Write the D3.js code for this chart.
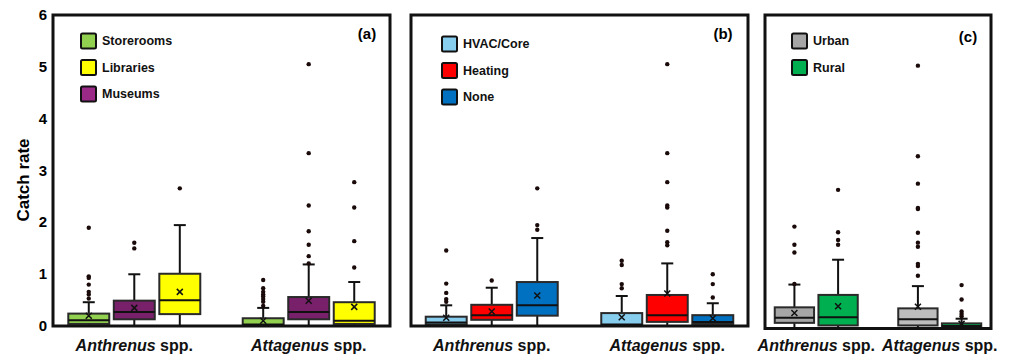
<!DOCTYPE html>
<html lang="en">
<head>
    <meta charset="UTF-8">
    <title>Catch rate</title>
    <script src="https://cdn.jsdelivr.net/npm/d3@7/dist/d3.min.js"></script>
    <style>
        body { margin: 0; background: #fff; }
        text { font-family: Arial, "Liberation Sans", sans-serif; fill: #000; }
        .tick text { font-size: 15px; font-weight: bold; }
        .legend text { font-size: 12.5px; font-weight: bold; fill: #111; }
        .plabel { font-size: 15px; font-weight: bold; }
        .xlab { font-size: 16px; font-weight: bold; fill: #111; }
    </style>
</head>
<body>
    <svg id="chart" width="1019" height="356"></svg>
    <script>
        // species on the x axis
        const species = ["Anthrenus", "Attagenus"]
        const yTicks = [0, 1, 2, 3, 4, 5, 6]

        // panel (a): building type
        const typeSeries = ["Storerooms", "Museums", "Libraries"]
        const typeLegend = ["Storerooms", "Libraries", "Museums"]
        const storeroomsStats = [
            {q1: 0.03, med: 0.10, q3: 0.23, lo: 0, hi: 0.45, mean: 0.19},
            {q1: 0.00, med: 0.02, q3: 0.14, lo: 0, hi: 0.34, mean: 0.09}
        ]
        const storeroomsOut = [[1.89, 0.95, 0.92, 0.79, 0.65, 0.60, 0.52], [0.88, 0.72, 0.65, 0.60, 0.56, 0.51, 0.46, 0.38]]
        const museumsStats = [
            {q1: 0.12, med: 0.26, q3: 0.48, lo: 0, hi: 0.99, mean: 0.34},
            {q1: 0.12, med: 0.26, q3: 0.55, lo: 0, hi: 1.18, mean: 0.48}
        ]
        const museumsOut = [[1.49, 1.60], [1.20, 1.34, 1.56, 1.82, 2.32, 3.33, 5.05]]
        const librariesStats = [
            {q1: 0.22, med: 0.49, q3: 1.00, lo: 0, hi: 1.94, mean: 0.65},
            {q1: 0.03, med: 0.09, q3: 0.45, lo: 0, hi: 0.84, mean: 0.36}
        ]
        const librariesOut = [[2.65], [1.12, 1.63, 2.28, 2.77]]

        // panel (b): climate control
        const climateSeries = ["HVAC/Core", "Heating", "None"]
        const hvacStats = [
            {q1: 0.02, med: 0.06, q3: 0.17, lo: 0, hi: 0.39, mean: 0.15},
            {q1: 0.01, med: 0.02, q3: 0.24, lo: 0, hi: 0.57, mean: 0.16}
        ]
        const hvacOut = [[0.46, 0.51, 0.63, 0.81, 1.45], [0.72, 0.80, 1.17, 1.25]]
        const heatingStats = [
            {q1: 0.11, med: 0.20, q3: 0.40, lo: 0, hi: 0.73, mean: 0.27},
            {q1: 0.07, med: 0.20, q3: 0.59, lo: 0, hi: 1.20, mean: 0.62}
        ]
        const heatingOut = [[0.87], [1.55, 1.61, 1.83, 2.28, 2.32, 2.77, 3.33, 5.05]]
        const noneStats = [
            {q1: 0.19, med: 0.39, q3: 0.84, lo: 0, hi: 1.69, mean: 0.58},
            {q1: 0.03, med: 0.07, q3: 0.20, lo: 0, hi: 0.43, mean: 0.14}
        ]
        const noneOut = [[1.85, 1.94, 2.65], [0.54, 0.80, 0.99]]

        // panel (c): location
        const locSeries = ["Urban", "Rural"]
        const urbanStats = [
            {q1: 0.08, med: 0.18, q3: 0.38, lo: 0, hi: 0.82, mean: 0.27},
            {q1: 0.03, med: 0.15, q3: 0.36, lo: 0, hi: 0.79, mean: 0.39}
        ]
        const urbanOut = [[0.83, 1.44, 1.59, 1.94], [0.99, 1.18, 1.22, 1.55, 1.63, 1.82, 2.28, 2.30, 2.77, 3.30, 5.05]]
        const ruralStats = [
            {q1: 0.03, med: 0.19, q3: 0.62, lo: 0, hi: 1.30, mean: 0.40},
            {q1: 0.01, med: 0.02, q3: 0.07, lo: 0, hi: 0.16, mean: 0.06}
        ]
        const ruralOut = [[1.59, 1.68, 1.83, 2.65], [0.21, 0.25, 0.30, 0.53, 0.81]]

        // colours (per species where the shade differs)
        const fills = {
            "Storerooms": ["#92d050", "#92d050"],
            "Museums": ["#78206a", "#78206a"],
            "Libraries": ["#ffff00", "#ffff00"],
            "HVAC/Core": ["#87cdee", "#87cdee"],
            "Heating": ["#ff0000", "#ff0000"],
            "None": ["#0070c0", "#0070c0"],
            "Urban": ["#a6a6a6", "#bdbdbd"],
            "Rural": ["#00b050", "#00b050"]
        }
        const legendFill = {"Museums": "#9a2a86"}

        const panels = [
            {
                id: "(a)", x0: 53, x1: 390, top: 15, bottom: 326, y0: 325.5, pad: 0.466, inner: 132,
                series: typeSeries, legend: typeLegend,
                stats: {"Storerooms": storeroomsStats, "Museums": museumsStats, "Libraries": librariesStats},
                out: {"Storerooms": storeroomsOut, "Museums": museumsOut, "Libraries": librariesOut},
                lx: 81, ly: 41, lab: [367, 34]
            },
            {
                id: "(b)", x0: 411, x1: 748, top: 15, bottom: 326, y0: 325.5, pad: 0.46, inner: 132,
                series: climateSeries, legend: climateSeries,
                stats: {"HVAC/Core": hvacStats, "Heating": heatingStats, "None": noneStats},
                out: {"HVAC/Core": hvacOut, "Heating": heatingOut, "None": noneOut},
                lx: 442, ly: 44, lab: [723, 34]
            },
            {
                id: "(c)", x0: 765, x1: 991, top: 15, bottom: 328.5, y0: 327, pad: 0.415, inner: 83,
                series: locSeries, legend: locSeries,
                stats: {"Urban": urbanStats, "Rural": ruralStats},
                out: {"Urban": urbanOut, "Rural": ruralOut},
                lx: 792, ly: 41, lab: [968, 37]
            }
        ]

        const svg = d3.select("#chart")

        panels.forEach((p, pi) => {
            const g = svg.append("g")
            const y = d3.scaleLinear().domain([0, 6]).range([p.y0, p.y0 - 6 * 51.75])
            const x = d3.scalePoint().domain(species).range([p.x0, p.x1]).padding(p.pad)
            const xi = d3.scaleBand().domain(p.series).range([-p.inner / 2, p.inner / 2]).paddingInner(0.1)
            const bw = xi.bandwidth()

            if (pi === 0) {
                svg.append("g").attr("transform", "translate(49,0)")
                    .call(d3.axisLeft(y).tickValues(yTicks).tickFormat(d3.format("d")).tickSize(0).tickPadding(2))
                    .call(a => a.select(".domain").remove())
                svg.append("text").attr("transform", "translate(29,180) rotate(-90)")
                    .attr("text-anchor", "middle").style("font-size", "17px").style("font-weight", "bold")
                    .text("Catch rate")
            }

            p.series.forEach(s => {
                species.forEach((sp, si) => {
                    const d = p.stats[s][si]
                    const cx = x(sp) + xi(s) + bw / 2
                    const bg = g.append("g")
                    // whiskers
                    bg.append("line").attr("x1", cx).attr("x2", cx).attr("y1", y(d.hi)).attr("y2", y(d.q3))
                        .attr("stroke", "#111").attr("stroke-width", 2)
                    bg.append("line").attr("x1", cx).attr("x2", cx).attr("y1", y(d.q1)).attr("y2", y(d.lo))
                        .attr("stroke", "#111").attr("stroke-width", 2)
                    bg.append("line").attr("x1", cx - 6).attr("x2", cx + 6).attr("y1", y(d.hi)).attr("y2", y(d.hi))
                        .attr("stroke", "#111").attr("stroke-width", 2)
                    // box
                    bg.append("rect").attr("x", cx - bw / 2).attr("width", bw)
                        .attr("y", y(d.q3)).attr("height", Math.max(1, y(d.q1) - y(d.q3)))
                        .attr("fill", fills[s][si]).attr("stroke", "#2a2a2a").attr("stroke-width", 2)
                    bg.append("line").attr("x1", cx - bw / 2).attr("x2", cx + bw / 2).attr("y1", y(d.med)).attr("y2", y(d.med))
                        .attr("stroke", "#111").attr("stroke-width", 2)
                    // mean
                    const my = y(d.mean)
                    bg.append("path").attr("d", `M${cx - 3},${my - 3}L${cx + 3},${my + 3}M${cx - 3},${my + 3}L${cx + 3},${my - 3}`)
                        .attr("stroke", "#111").attr("stroke-width", 1.5)
                    // outliers
                    bg.selectAll("circle").data(p.out[s][si]).enter().append("circle")
                        .attr("cx", cx).attr("cy", v => y(v)).attr("r", 2.2).attr("fill", "#1a0a0a")
                })
            })

            // frame
            g.append("rect").attr("x", p.x0).attr("y", p.top).attr("width", p.x1 - p.x0).attr("height", p.bottom - p.top)
                .attr("fill", "none").attr("stroke", "#111").attr("stroke-width", 3)

            // legend
            const lg = g.append("g").attr("class", "legend")
            p.legend.forEach((s, i) => {
                const ly = p.ly + i * 26.5
                lg.append("rect").attr("x", p.lx).attr("y", ly - 7.5).attr("width", 15).attr("height", 15).attr("rx", 1.5)
                    .attr("fill", legendFill[s] || fills[s][0]).attr("stroke", "#111").attr("stroke-width", 2)
                lg.append("text").attr("x", p.lx + 21).attr("y", ly).attr("dy", "0.35em").text(s)
            })

            g.append("text").attr("class", "plabel").attr("x", p.lab[0]).attr("y", p.lab[1]).attr("dy", "0.35em")
                .attr("text-anchor", "middle").text(p.id)

            // species labels
            species.forEach(sp => {
                const t = g.append("text").attr("class", "xlab").attr("x", x(sp)).attr("y", 345).attr("dy", "0.35em")
                    .attr("text-anchor", "middle")
                t.append("tspan").style("font-style", "italic").text(sp)
                t.append("tspan").text(" spp.")
            })
        })
    </script>
</body>
</html>
